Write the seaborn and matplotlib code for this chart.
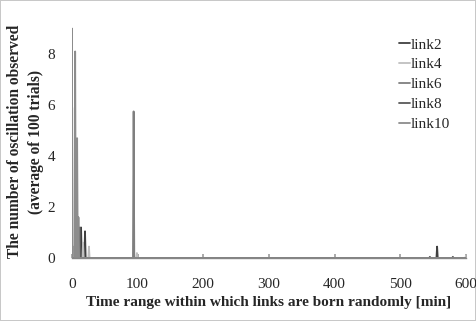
import matplotlib
matplotlib.use("Agg")
import matplotlib.pyplot as plt
import seaborn as sns
import pandas as pd

sns.set_theme(style="white")
plt.rcParams['font.family'] = ['Liberation Serif', 'DejaVu Serif']

series_names = ["link2", "link4", "link6", "link8", "link10"]
colors = ["#404040", "#bfbfbf", "#7f7f7f", "#595959", "#8c8c8c"]

link2_x = [0, 1.5, 2, 2.5, 13, 14, 15, 19, 20, 21, 555, 556, 557, 600]
link2_y = [0, 0, 0.45, 0, 0, 1.2, 0, 0, 1.05, 0, 0, 0.45, 0, 0]
link4_x = [0, 0.5, 1.5, 16, 17, 18, 25, 26, 27, 98, 99, 100, 599, 600]
link4_y = [0, 5.9, 0, 0, 0.6, 0, 0, 0.45, 0, 0, 0.2, 0, 0, 0.1]
link6_x = [0, 93, 94, 95, 600]
link6_y = [0, 0, 5.75, 0, 0]
link8_x = [0, 11, 12, 13, 544, 545, 546, 579, 580, 581, 600]
link8_y = [0, 0, 1.2, 0, 0, 0.05, 0, 0, 0.05, 0, 0]
link10_x = [0, 0, 0.4, 4, 5, 6, 7, 8, 9, 10, 11, 12, 600]
link10_y = [0, 9.0, 0, 0, 8.1, 0, 0, 4.7, 0, 1.6, 0, 0, 0]

xs = [link2_x, link4_x, link6_x, link8_x, link10_x]
ys = [link2_y, link4_y, link6_y, link8_y, link10_y]

fig = plt.figure(figsize=(4.76, 3.21), dpi=100, edgecolor="#c8c8c8", linewidth=1.2)
ax = fig.add_axes([0.151, 0.196, 0.828, 0.755])

for name, c, x, y in zip(series_names, colors, xs, ys):
    df = pd.DataFrame({"x": x, "y": y})
    sns.lineplot(data=df, x="x", y="y", ax=ax, color=c, linewidth=1.3,
                 estimator=None, sort=False, label=name)

ax.set_xlim(0, 600)
ax.set_ylim(0, 9.5)
ax.set_xticks([0, 100, 200, 300, 400, 500, 600])
ax.set_yticks([0, 2, 4, 6, 8])
for s in ["top", "right", "left"]:
    ax.spines[s].set_visible(False)
ax.spines["bottom"].set_color("#868686")
ax.spines["bottom"].set_linewidth(1.0)
ax.tick_params(axis="x", direction="in", length=3, color="#a0a0a0", labelsize=11, pad=14, bottom=True)
ax.tick_params(axis="y", length=0, labelsize=11, pad=12, left=False)
ax.set_xlabel("Time range within which links are born randomly [min]",
              fontsize=11, fontweight="bold", labelpad=4)
ax.set_ylabel("The number of oscillation observed\n(average of 100 trials)",
              fontsize=11.2, fontweight="bold", linespacing=1.45)
ax.yaxis.set_label_coords(-0.07, 0.48)
ax.grid(False)
leg = ax.legend(loc="upper right", bbox_to_anchor=(0.995, 0.965), frameon=False,
                fontsize=11, handlelength=0.7, handletextpad=0.1, labelspacing=0.4)
fig.savefig("out.png", dpi=100)
